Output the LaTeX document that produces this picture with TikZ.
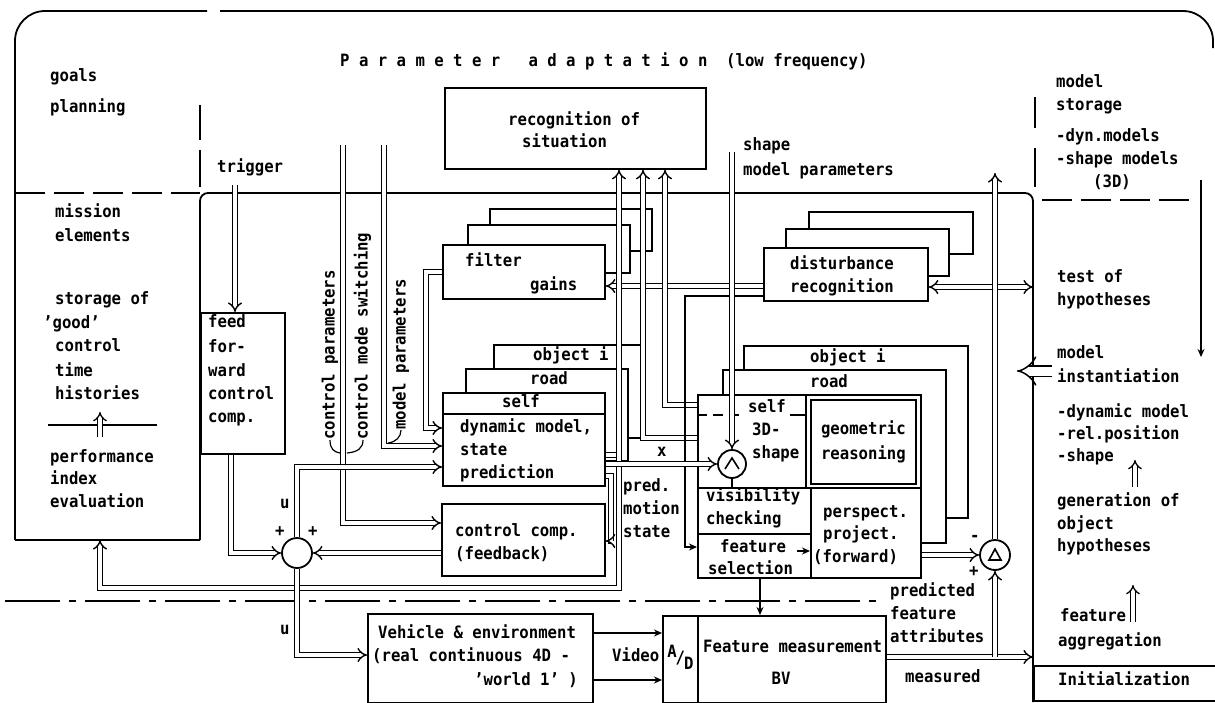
\documentclass[tikz,border=0pt]{standalone}
\usepackage{fontspec}
\setmainfont{DejaVu Sans Mono}[FakeStretch=0.92]
\usetikzlibrary{arrows.meta}
\begin{document}
\begin{tikzpicture}[x=1pt,y=-1pt,
  ln/.style={line width=1.8pt},
  box/.style={draw, line width=1.8pt, fill=white, inner sep=0pt, anchor=north west},
  dbl/.style={draw, line width=1.4pt, double distance=3.4pt},
  dbla/.style={dbl, -{Implies[scale=1.3]}},
  sarr/.style={line width=1.4pt, -{Stealth[length=8pt,width=7pt]}},
  thin2/.style={line width=1.3pt, double distance=3.4pt, -{Implies[scale=1.3]}},
  txt/.style={inner sep=0pt, anchor=west, text height=12pt, text depth=3pt, font=\fontsize{17}{20}\selectfont\bfseries},
  sumc/.style={draw, circle, line width=1.8pt, fill=white, inner sep=0pt}
]
\useasboundingbox (0,0) rectangle (1215,702);

% ---------- frame and separators ----------
\draw[ln] (200,540) -- (15,540);
\draw[ln, rounded corners=30pt] (15,540) -- (15,11) -- (207,11);
\draw[ln, rounded corners=30pt] (220,11) -- (1213,11) -- (1213,48);
\draw[ln, rounded corners=8pt] (200,540) -- (200,193) -- (1033,193) -- (1033,702);
\draw[ln, dash pattern=on 30pt off 9pt] (15,193) -- (200,193);
\draw[ln, dash pattern=on 30pt off 9pt] (1042,200) -- (1195,200);
\draw[ln] (200,105) -- (200,140);
\draw[ln] (200,150) -- (200,187);
\draw[ln] (1035,97) -- (1035,128);
\draw[ln] (1035,148) -- (1035,187);
\draw[ln, dash pattern=on 55pt off 9pt on 7pt off 9pt] (5,601) -- (885,601);

% ---------- boxes ----------
\node[box, minimum width=261pt, minimum height=81pt] (rec) at (444,87) {};
\node[box, minimum width=162pt, minimum height=42pt] (f3) at (489,208) {};
\node[box, minimum width=162pt, minimum height=48pt] (f2) at (467,224) {};
\node[box, minimum width=162pt, minimum height=54pt] (fg) at (442,244) {};
\node[box, minimum width=164pt, minimum height=42pt] (d3) at (808,211) {};
\node[box, minimum width=163pt, minimum height=47pt] (d2) at (785,228) {};
\node[box, minimum width=164pt, minimum height=53pt] (dr) at (763,247) {};
\node[box, minimum width=147pt, minimum height=93pt] (dmo) at (493,344) {};
\node[box, minimum width=162pt, minimum height=92pt] (dmr) at (465,368) {};
\node[box, minimum width=162pt, minimum height=93pt] (ds) at (442,392) {};
\draw[ln] (ds.west |- 0,414) -- (ds.east |- 0,414);
\node[box, minimum width=163pt, minimum height=72pt] (cc) at (441,503) {};
\node[box, minimum width=84pt, minimum height=141pt] (ff) at (200,312) {};
\node[box, minimum width=224pt, minimum height=172pt] (fo) at (743,345) {};
\node[box, minimum width=223pt, minimum height=173pt] (fr) at (722,369) {};
\node[box, minimum width=223pt, minimum height=183pt] (fs) at (697,394) {};
\node[box, minimum width=115pt, minimum height=93pt] (geo) at (805,394) {};
\draw[ln] ([shift={(6,6)}]geo.north west) rectangle ([shift={(-6,-5)}]geo.south east);
\node[box, minimum width=113pt, minimum height=46pt] (vis) at (697,487) {};
\node[box, minimum width=113pt, minimum height=44pt] (fsel) at (697,533) {};
\node[box, minimum width=110pt, minimum height=90pt] (persp) at (810,487) {};
\node[box, minimum width=225pt, minimum height=89pt] (veh) at (367,613) {};
\node[box, minimum width=35pt, minimum height=87pt] (ad) at (662,615) {};
\node[box, minimum width=188pt, minimum height=87pt] (fm) at (697,615) {};
\node[box, minimum width=190pt, minimum height=35pt] (init) at (1033,665) {};
\draw[line width=1.4pt, dash pattern=on 10pt off 6pt] (fs.west |- 0,415) -- (745,415);
\draw[line width=1.4pt] (790,415) -- (geo.west |- 0,415);

% ---------- junctions ----------
\node[sumc, minimum size=30pt] (sumj) at (297,553) {};
\node[sumc, minimum size=28pt] (cap) at (732,464) {};
\node[sumc, minimum size=30pt] (delt) at (995,555) {};
\draw[line width=1.6pt] ([shift={(-7,5)}]cap.center) -- ([shift={(0,-6)}]cap.center) -- ([shift={(7,5)}]cap.center);
\draw[line width=1.6pt] ([shift={(-6,5)}]delt.center) -- ([shift={(0,-6)}]delt.center) -- ([shift={(6,5)}]delt.center) -- cycle;

% ---------- connectors ----------
\draw[dbla] (235,185) -- (ff.north -| 235,0);
\draw[dbla] (343,145) -- (343,523) -- (cc.west |- 0,523);
\draw[dbla] (384,145) -- (384,446) -- (ds.west |- 0,446);
\draw[dbla] (fg.west |- 0,272) -- (426,272) -- (426,428) -- (ds.west |- 0,428);
\draw[dbla] (ff.south -| 231,0) -- (231,553) -- (sumj.west);
\draw[dbla] (cc.west |- sumj.east) -- (sumj.east);
\draw[dbla] (sumj.north) -- (297,467) -- (ds.west |- 0,467);
\draw[dbla] (dr.west |- 0,286) -- (fg.east |- 0,286);
\draw[dbl, {Implies[scale=1.3]}-{Implies[scale=1.3]}] (dr.east |- 0,287) -- (1033,287);
\draw[dbl, {Implies[scale=1.3]}-] (rec.south -| 643,0) -- (643,438) -- (fs.west |- 0,438);
\draw[dbl, {Implies[scale=1.3]}-] (rec.south -| 665,0) -- (665,405) -- (fs.west |- 0,405);
\draw[dbl, {Implies[scale=1.3]}-{Implies[scale=1.3]}] (rec.south -| 619,0) -- (619,588) -- (100,588) -- (100,540);
\draw[dbla] (sumj.south) -- (297,655) -- (veh.west |- 0,655);
\draw[dbl] (ds.east |- 0,455) -- (616,455);
\draw[dbla] (ds.east |- 0,476) -- (611,476) -- (611,541) -- (cc.east |- 0,541);
\draw[sarr] (dr.west |- 0,296) -- (685,296) -- (685,547) -- (fsel.west |- 0,547);
\draw[dbla] (ds.east |- cap.west) -- (cap.west);
\draw[dbla] (cap.north |- 0,152) -- (cap.north);
\draw[line width=1.4pt] (cap.south) -- (cap.south |- vis.north);
\draw[dbla] (delt.north) -- (delt.north |- 0,173);
\draw[sarr] (797,551) -- (persp.west |- 0,551);
\draw[dbla] (persp.east |- delt.west) -- (delt.west);
\draw[sarr] (fsel.south -| 760,0) -- (fm.north -| 760,0);
\draw[dbla] (fm.east |- 0,657) -- (init.west |- 0,657);
\draw[dbla] (delt.south |- 0,657) -- (delt.south);
\draw[sarr] (veh.east |- 0,633) -- (ad.west |- 0,633);
\draw[sarr] (veh.east |- 0,680) -- (ad.west |- 0,680);
\draw[line width=1.5pt, double distance=9pt, -{Implies}] (1052,371) -- (1017,371);
\draw[sarr, line width=1.3pt] (1201,180) -- (1201,357);
\draw[thin2] (1135,487) -- (1135,460);
\draw[thin2] (1133,622) -- (1133,585);
\draw[ln] (48,425) -- (157,425);
\draw[thin2] (100,437) -- (100,412);

% ---------- texts ----------
\node[txt] (tpar) at (340,62) {P~a~r~a~m~e~t~e~r~~~a~d~a~p~t~a~t~i~o~n~~(low~frequency)};
\node[txt] (tgoals) at (50,77) {goals};
\node[txt] (tplan) at (50,108) {planning};
\node[txt] (ttrig) at (217,168) {trigger};
\node[txt] (tmis) at (55,213) {mission};
\node[txt] (tele) at (55,237) {elements};
\node[txt] (tsto) at (55,300) {storage of};
\node[txt] (tgood) at (43,324) {’good’};
\node[txt] (tctl) at (55,347) {control};
\node[txt] (ttime) at (55,372) {time};
\node[txt] (thist) at (55,395) {histories};
\node[txt] (tperf) at (50,458) {performance};
\node[txt] (tidx) at (50,480) {index};
\node[txt] (teval) at (50,503) {evaluation};
\node[txt] (tff1) at (208,323) {feed};
\node[txt] (tff2) at (208,348) {for-};
\node[txt] (tff3) at (208,372) {ward};
\node[txt] (tff4) at (208,395) {control};
\node[txt] (tff5) at (208,418) {comp.};
\node[txt, rotate=90] (lcp) at (330,440) {control parameters};
\node[txt, rotate=90] (lcm) at (363,440) {control mode switching};
\node[txt, rotate=90] (lmp) at (401,430) {model parameters};
\draw[line width=1.2pt] (lcp.west) .. controls (330,449) and (334,452) .. (340,453);
\draw[line width=1.2pt] (lcm.west) .. controls (363,448) and (358,452) .. (347,453);
\draw[line width=1.2pt] (lmp.west) .. controls (401,437) and (396,442) .. (388,443);
\node[txt] (trec1) at (508,121) {recognition of};
\node[txt] (trec2) at (522,143) {situation};
\node[txt] (tsh1) at (743,146) {shape};
\node[txt] (tsh2) at (743,171) {model parameters};
\node[txt] (tfil) at (465,262) {filter};
\node[txt] (tgain) at (530,286) {gains};
\node[txt] (tdis1) at (790,265) {disturbance};
\node[txt] (tdis2) at (790,288) {recognition};
\node[txt] (tobj1) at (533,356) {object i};
\node[txt] (troad1) at (530,380) {road};
\node[txt] (tself1) at (502,403) {self};
\node[txt] (tdm1) at (460,428) {dynamic model,};
\node[txt] (tdm2) at (460,451) {state};
\node[txt] (tdm3) at (460,474) {prediction};
\node[txt] (tcc1) at (455,532) {control comp.};
\node[txt] (tcc2) at (455,555) {(feedback)};
\node[txt] (tx) at (657,452) {x};
\node[txt] (tpr1) at (623,487) {pred.};
\node[txt] (tpr2) at (623,510) {motion};
\node[txt] (tpr3) at (623,533) {state};
\node[txt] (tobj2) at (810,358) {object i};
\node[txt] (troad2) at (810,383) {road};
\node[txt] (tself2) at (748,408) {self};
\node[txt] (t3d) at (752,431) {3D-};
\node[txt] (tshp) at (752,454) {shape};
\node[txt, anchor=center] (tgeo1) at (geo.center |- 0,430) {geometric};
\node[txt, anchor=center] (tgeo2) at (geo.center |- 0,455) {reasoning};
\node[txt] (tvis1) at (706,497) {visibility};
\node[txt] (tvis2) at (706,520) {checking};
\node[txt] (tfs1) at (720,548) {feature};
\node[txt] (tfs2) at (708,570) {selection};
\node[txt] (tpp1) at (823,513) {perspect.};
\node[txt] (tpp2) at (823,535) {project.};
\node[txt] (tpp3) at (813,558) {(forward)};
\node[txt] (tminus) at (970,537) {-};
\node[txt] (tplus) at (969,572) {+};
\node[txt] (tsp1) at (275,532) {+};
\node[txt] (tsp2) at (308,532) {+};
\node[txt] (tu1) at (280,504) {u};
\node[txt] (tu2) at (280,630) {u};
\node[txt] (tpf1) at (890,592) {predicted};
\node[txt] (tpf2) at (890,615) {feature};
\node[txt] (tpf3) at (890,638) {attributes};
\node[txt] (tmeas) at (905,678) {measured};
\node[txt] (tveh1) at (378,634) {Vehicle \& environment};
\node[txt] (tveh2) at (372,657) {(real continuous 4D -};
\node[txt, anchor=east] (tveh3) at (578,681) {’world 1’ )};
\node[txt] (tvid) at (612,657) {Video};
\node[txt, anchor=center] (tad) at (ad.center) {\raisebox{6pt}{A}\hspace{-1pt}/\hspace{-1pt}\raisebox{-6pt}{D}};
\node[txt] (tfm1) at (703,648) {Feature measurement};
\node[txt, anchor=center] (tfm2) at (781,680) {BV};
\node[txt] (tms1) at (1056,83) {model};
\node[txt] (tms2) at (1056,106) {storage};
\node[txt] (tms3) at (1056,137) {-dyn.models};
\node[txt] (tms4) at (1056,160) {-shape models};
\node[txt] (tms5) at (1093,183) {(3D)};
\node[txt] (tth1) at (1057,278) {test of};
\node[txt] (tth2) at (1057,301) {hypotheses};
\node[txt] (tmi1) at (1057,354) {model};
\node[txt] (tmi2) at (1057,378) {instantiation};
\node[txt] (tmi3) at (1057,413) {-dynamic model};
\node[txt] (tmi4) at (1057,435) {-rel.position};
\node[txt] (tmi5) at (1057,457) {-shape};
\node[txt] (tgo1) at (1057,502) {generation of};
\node[txt] (tgo2) at (1057,525) {object};
\node[txt] (tgo3) at (1057,547) {hypotheses};
\node[txt] (tfa1) at (1060,617) {feature};
\node[txt] (tfa2) at (1058,642) {aggregation};
\node[txt] (tini) at (1058,681) {Initialization};
\end{tikzpicture}
\end{document}
